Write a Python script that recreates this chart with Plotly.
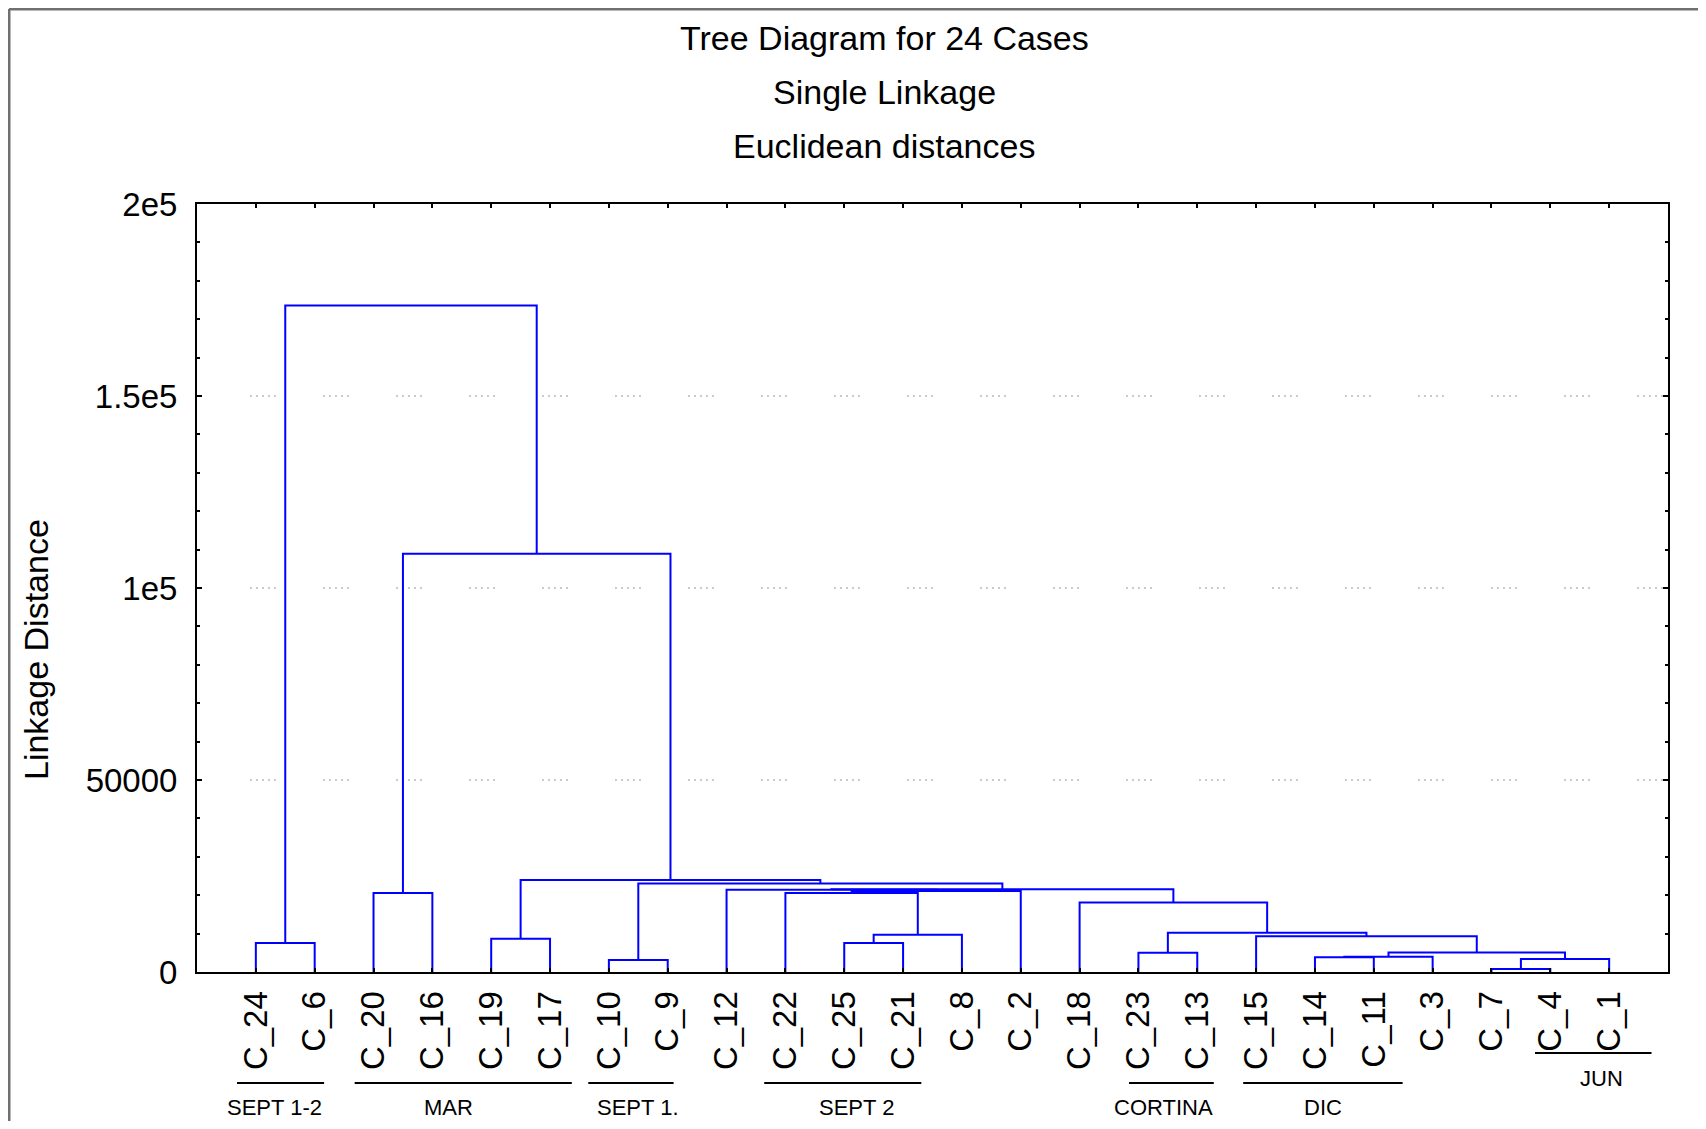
import plotly.graph_objects as go

# ---------------- data ----------------
leaves = ["C_24", "C_6", "C_20", "C_16", "C_19", "C_17", "C_10", "C_9", "C_12",
          "C_22", "C_25", "C_21", "C_8", "C_2", "C_18", "C_23", "C_13", "C_15",
          "C_14", "C_11", "C_3", "C_7", "C_4", "C_1"]

# linkage: ids 0..23 are the leaves (display order); merge k creates id 24+k
merge_left = [21, 6, 24, 18, 27, 15, 28, 0, 10, 4, 17, 32, 29, 14, 2, 9, 39, 8, 41, 25, 33, 38, 31]
merge_right = [22, 7, 23, 19, 20, 16, 26, 1, 11, 5, 30, 12, 34, 36, 3, 35, 13, 40, 37, 42, 43, 44, 45]
merge_height = [760, 3100, 3360, 3850, 3950, 5030, 5100, 7540, 7540, 8680, 9280, 9730,
                10240, 18070, 20570, 20580, 21100, 21400, 21550, 23020, 23960, 108900, 173600]

y_tick_vals = [0, 50000, 100000, 150000, 200000]
y_tick_text = ["0", "50000", "1e5", "1.5e5", "2e5"]

group_labels = ["SEPT 1-2", "MAR", "SEPT 1.", "SEPT 2", "CORTINA", "DIC", "JUN"]

title_lines = ["Tree Diagram for 24 Cases", "Single Linkage", "Euclidean distances"]
y_title = "Linkage Distance"

# ---------------- layout helpers ----------------
OFF = 8                      # page body margin in the browser
W, H = 1706 - 2 * OFF, 1129 - 2 * OFF
PL, PR, PT, PB = 197, 1668, 204, 972   # plot area in screen pixels
ML, MR, MT, MB = PL - OFF, W - (PR - OFF), PT - OFF, H - (PB - OFF)
PW, PH = W - ML - MR, H - MT - MB


def px_x(px):
    return (px - OFF - ML) / PW


def px_y(py):
    return (H - MB - (py - OFF)) / PH


FONT = "Arial, 'Liberation Sans', sans-serif"

# ---------------- dendrogram paths ----------------
pos = {i: i + 1 for i in range(len(leaves))}
hgt = {i: 0.0 for i in range(len(leaves))}
xs, ys = [], []
for k, (a, b, h) in enumerate(zip(merge_left, merge_right, merge_height)):
    xa, xb = pos[a], pos[b]
    xs += [xa, xa, xb, xb, None]
    ys += [hgt[a], h, h, hgt[b], None]
    nid = len(leaves) + k
    pos[nid] = (xa + xb) / 2
    hgt[nid] = h

fig = go.Figure()
fig.add_trace(go.Scatter(x=xs, y=ys, mode="lines",
                         line=dict(color="#0000ff", width=2),
                         hoverinfo="skip", showlegend=False))

# dotted grid segments
for v in y_tick_vals[1:-1]:
    fig.add_shape(type="line", xref="x", yref="y", x0=0.9, x1=25, y0=v, y1=v,
                  line=dict(color="#b8b8b8", width=1.5,
                            dash="2px,4px,2px,4px,2px,4px,2px,4px,2px,47px"),
                  layer="below")

# outer frame (left + top)
fig.add_shape(type="line", xref="paper", yref="paper",
              x0=px_x(9), x1=px_x(9), y0=px_y(9), y1=px_y(1140),
              line=dict(color="#707070", width=3))
fig.add_shape(type="line", xref="paper", yref="paper",
              x0=px_x(9), x1=px_x(1720), y0=px_y(9), y1=px_y(9),
              line=dict(color="#707070", width=3))

# titles
for txt, py in zip(title_lines, [38, 92, 146]):
    fig.add_annotation(text=txt, xref="paper", yref="paper", x=px_x(884), y=px_y(py),
                       xanchor="center", yanchor="middle", showarrow=False,
                       font=dict(family=FONT, size=34, color="black"))
fig.add_annotation(text=y_title, xref="paper", yref="paper", x=px_x(36), y=px_y(650),
                   xanchor="center", yanchor="middle", textangle=-90, showarrow=False,
                   font=dict(family=FONT, size=34, color="black"))

# group labels with underlines (line span in axis units, label centre, rows)
group_spans = [(0.68, 2.16), (2.68, 6.37), (6.65, 8.10), (9.64, 12.31),
               (15.84, 17.28), (17.78, 20.49), (22.74, 24.72)]
group_centers = [1.32, 4.28, 7.49, 11.20, 16.42, 19.13, 23.87]
group_line_py = [1083, 1083, 1083, 1083, 1083, 1083, 1053]
group_text_py = [1107, 1107, 1107, 1107, 1107, 1107, 1078]
for lab, (x0, x1), xc, lpy, tpy in zip(group_labels, group_spans, group_centers,
                                        group_line_py, group_text_py):
    fig.add_shape(type="line", xref="x", yref="paper", x0=x0, x1=x1,
                  y0=px_y(lpy), y1=px_y(lpy), line=dict(color="black", width=2))
    fig.add_annotation(text=lab, xref="x", yref="paper", x=xc, y=px_y(tpy),
                       xanchor="center", yanchor="middle", showarrow=False,
                       font=dict(family=FONT, size=22, color="black"))

fig.update_xaxes(range=[0, 25], tickmode="array", tickvals=list(range(1, len(leaves) + 1)),
                 ticktext=leaves, tickangle=-90, ticks="inside", ticklen=4, tickwidth=1.5,
                 tickcolor="black", mirror="allticks", showline=True, linecolor="black",
                 linewidth=2, showgrid=False, zeroline=False, ticklabelstandoff=4,
                 tickfont=dict(family=FONT, size=33, color="black"))
fig.update_yaxes(range=[0, 200000], tickmode="array", tickvals=y_tick_vals,
                 ticktext=y_tick_text, ticks="inside", ticklen=5, tickwidth=1.5,
                 tickcolor="black", mirror="ticks", showline=True, linecolor="black",
                 linewidth=2, showgrid=False, zeroline=False, ticklabelstandoff=11,
                 minor=dict(dtick=10000, ticks="inside", ticklen=3, tickcolor="black",
                            showgrid=False),
                 tickfont=dict(family=FONT, size=33, color="black"))

fig.update_layout(width=W, height=H, margin=dict(l=ML, r=MR, t=MT, b=MB),
                  paper_bgcolor="white", plot_bgcolor="white", showlegend=False)

fig.write_html("out.html")
